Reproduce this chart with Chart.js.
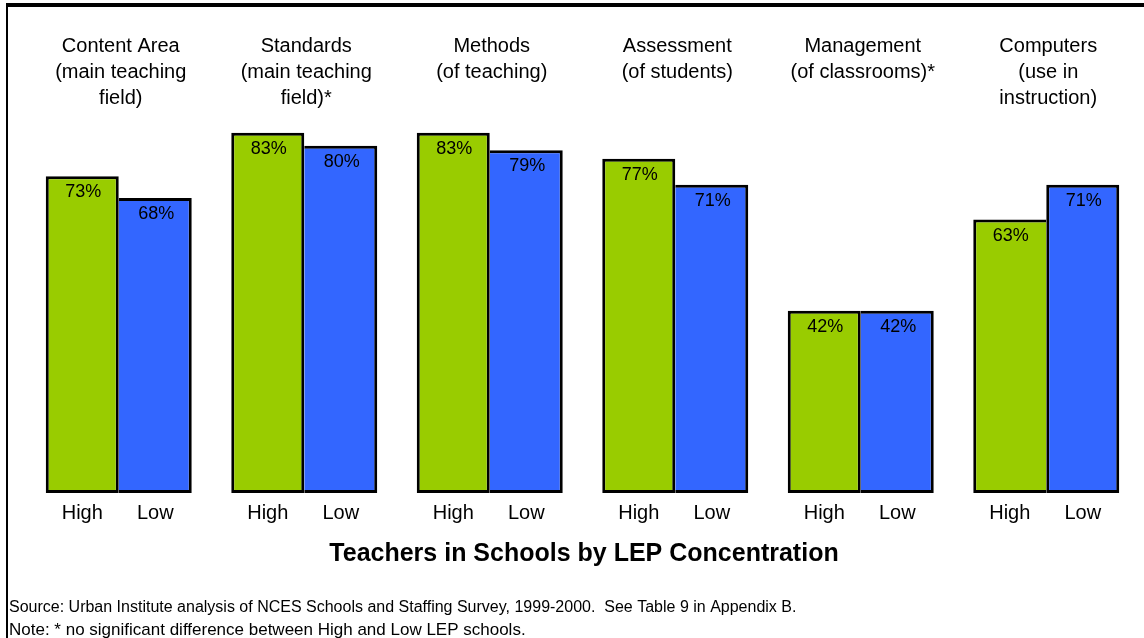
<!DOCTYPE html>
<html>
<head>
    <title>Teachers in Schools by LEP Concentration</title>
    <script src="https://cdn.jsdelivr.net/npm/chart.js"></script>
    <style>
        body { margin: 0; background: #fff; }
    </style>
</head>
<body>
    <canvas id="lepChart" width="1144" height="638"></canvas>
    <script>
        const categories = [
            ['Content Area', '(main teaching', 'field)'],
            ['Standards', '(main teaching', 'field)*'],
            ['Methods', '(of teaching)'],
            ['Assessment', '(of students)'],
            ['Management', '(of classrooms)*'],
            ['Computers', '(use in', 'instruction)']
        ];
        const seriesNames = ['High', 'Low'];
        const highValues = [73, 83, 83, 77, 42, 63];
        const lowValues = [68, 80, 79, 71, 42, 71];
        const chartTitle = 'Teachers in Schools by LEP Concentration';
        const sourceNote = 'Source: Urban Institute analysis of NCES Schools and Staffing Survey, 1999-2000.  See Table 9 in Appendix B.';
        const sigNote = 'Note: * no significant difference between High and Low LEP schools.';

        const FONT = '"Liberation Sans", Arial, sans-serif';

        // the taller bar of a pair owns the shared edge, so the line between them stays single
        function edgeWidth(ctx) {
            const i = ctx.dataIndex;
            const hi = highValues[i], lo = lowValues[i];
            if (ctx.datasetIndex === 0) {
                return { top: 3, left: 3, bottom: 3, right: hi >= lo ? 3 : 0 };
            }
            return { top: 3, right: 3, bottom: 3, left: lo > hi ? 3 : 0 };
        }

        const textPlugin = {
            id: 'textPlugin',
            afterDraw(chart) {
                const c = chart.ctx;
                const area = chart.chartArea;
                c.save();
                c.fillStyle = '#000';
                c.textAlign = 'center';
                c.textBaseline = 'alphabetic';

                // value labels inside bar tops + High/Low under bars
                chart.data.datasets.forEach((ds, di) => {
                    const meta = chart.getDatasetMeta(di);
                    meta.data.forEach((bar, j) => {
                        c.font = '18px ' + FONT;
                        c.fillText(ds.data[j] + '%', bar.x + 1, bar.y + 21);
                        c.font = '20px ' + FONT;
                        c.fillText(seriesNames[di], bar.x, area.bottom + 26);
                    });
                });

                // group headers above each pair
                c.font = '20px ' + FONT;
                const xs = chart.scales.x;
                categories.forEach((lines, j) => {
                    const cx = xs.getPixelForValue(j) + 2;
                    lines.forEach((line, k) => {
                        c.fillText(line, cx, 52 + k * 26);
                    });
                });

                // title under the axis
                c.font = 'bold 25px ' + FONT;
                c.fillText(chartTitle, 584, 561);

                // notes
                c.textAlign = 'left';
                c.font = '16px ' + FONT;
                c.fillText(sourceNote, 9, 612);
                c.font = '17px ' + FONT;
                c.fillText(sigNote, 9, 635);

                // frame
                c.fillRect(6, 3, 1138, 4);
                c.fillRect(6, 3, 2, 635);
                c.restore();
            }
        };

        const ctx = document.getElementById('lepChart').getContext('2d');
        const data = {
            labels: categories.map(l => l.join(' ')),
            datasets: [{
                label: seriesNames[0],
                data: highValues,
                backgroundColor: '#99CC00',
                borderColor: '#000',
                borderWidth: edgeWidth,
                borderSkipped: false
            }, {
                label: seriesNames[1],
                data: lowValues,
                backgroundColor: '#3366FF',
                borderColor: '#000',
                borderWidth: edgeWidth,
                borderSkipped: false
            }]
        };
        const config = {
            type: 'bar',
            data: data,
            options: {
                responsive: false,
                animation: false,
                layout: {
                    padding: { left: 26, right: 5, top: 59, bottom: 145 }
                },
                datasets: {
                    bar: { categoryPercentage: 0.787, barPercentage: 1.0 }
                },
                scales: {
                    x: { display: false },
                    y: { display: false, min: 0, max: 100 }
                },
                plugins: {
                    legend: { display: false },
                    tooltip: { enabled: false }
                }
            },
            plugins: [textPlugin]
        };
        const lepChart = new Chart(ctx, config);
    </script>
</body>
</html>
